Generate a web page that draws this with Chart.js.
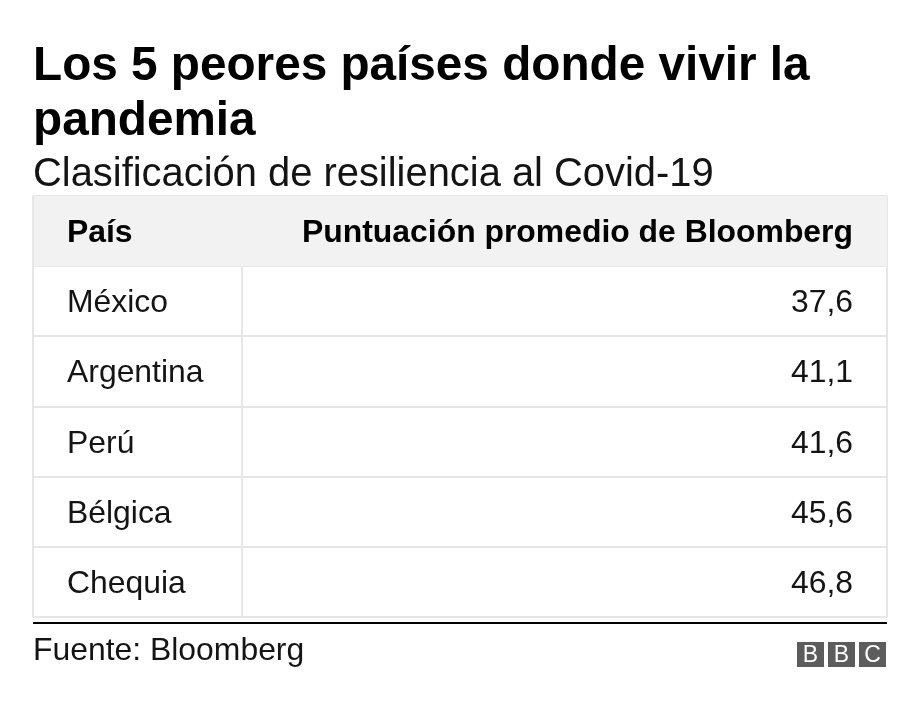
<!DOCTYPE html>
<html>
<head>
<meta charset="utf-8">
<script src="https://cdn.jsdelivr.net/npm/chart.js@4/dist/chart.umd.min.js"></script>
<style>
  html, body { margin: 0; padding: 0; background: #ffffff; }
  #wrap { position: relative; width: 920px; height: 710px; }
</style>
</head>
<body>
<div id="wrap"><canvas id="c"></canvas></div>
<script>
// ---- data ----
const titleLines = ['Los 5 peores países donde vivir la', 'pandemia'];
const subtitle = 'Clasificación de resiliencia al Covid-19';
const headers = ['País', 'Puntuación promedio de Bloomberg'];
const countries = ['México', 'Argentina', 'Perú', 'Bélgica', 'Chequia'];
const scores = [37.6, 41.1, 41.6, 45.6, 46.8];
const source = 'Fuente: Bloomberg';
const logoLetters = ['B', 'B', 'C'];

// ---- styling ----
const FONT = "'Liberation Sans', Arial, Helvetica, sans-serif";
const TEXT = '#141414';
const GRID = '#e6e6e6';
const HEAD_BG = '#f2f2f2';
const COL_SPLIT = 0.245;   // fraction of the table width where column 1 ends
const CELL_PAD = 34;

const rowLabels = [headers[0]].concat(countries);
const headerBar = rowLabels.map((_, i) => i === 0 ? [0, 1] : null);
const fmt = v => v.toFixed(1).replace('.', ',');

const tablePlugin = {
  id: 'tablePlugin',
  afterDraw(chart) {
    const ctx = chart.ctx;
    const area = chart.chartArea;
    const y = chart.scales.y;
    ctx.save();
    ctx.fillStyle = '#000';
    ctx.textAlign = 'left';
    ctx.textBaseline = 'alphabetic';
    // title
    ctx.font = 'bold 47.7px ' + FONT;
    ctx.fillText(titleLines[0], area.left, 80);
    ctx.fillText(titleLines[1], area.left, 135);
    // subtitle
    ctx.fillStyle = TEXT;
    ctx.font = '39.9px ' + FONT;
    ctx.fillText(subtitle, area.left, 186);

    // table cells
    rowLabels.forEach((lab, i) => {
      const cy = y.getPixelForValue(i) + 11;
      ctx.font = (i === 0 ? 'bold ' : '') + '31.9px ' + FONT;
      ctx.fillStyle = i === 0 ? '#000' : TEXT;
      ctx.textAlign = 'left';
      ctx.fillText(lab, area.left + CELL_PAD, cy);
      ctx.textAlign = 'right';
      const right = i === 0 ? headers[1] : fmt(scores[i - 1]);
      ctx.fillText(right, area.right - CELL_PAD, cy);
    });

    // black rule
    ctx.fillStyle = '#000';
    ctx.fillRect(area.left, area.bottom + 5, area.right - area.left, 2);

    // source
    ctx.fillStyle = TEXT;
    ctx.textAlign = 'left';
    ctx.font = '31.9px ' + FONT;
    ctx.fillText(source, area.left, 660);

    // BBC logo
    const bw = 27, bh = 25, gap = 4;
    const total = logoLetters.length * bw + (logoLetters.length - 1) * gap;
    let bx = area.right - 1 - total;
    const by = 642;
    ctx.font = '23px ' + FONT;
    ctx.textAlign = 'center';
    ctx.textBaseline = 'middle';
    logoLetters.forEach(ch => {
      ctx.fillStyle = '#5c5c5c';
      ctx.fillRect(bx, by, bw, bh);
      ctx.fillStyle = '#ffffff';
      ctx.fillText(ch, bx + bw / 2, by + bh / 2 + 1);
      bx += bw + gap;
    });
    ctx.restore();
  }
};

new Chart(document.getElementById('c'), {
  type: 'bar',
  data: {
    labels: rowLabels,
    datasets: [{
      data: headerBar,
      backgroundColor: HEAD_BG,
      borderWidth: 0,
      barPercentage: 1,
      categoryPercentage: 1,
      inflateAmount: 0
    }]
  },
  options: {
    indexAxis: 'y',
    responsive: true,
    maintainAspectRatio: false,
    animation: false,
    events: [],
    layout: { padding: { left: 33, right: 33, top: 196, bottom: 93 } },
    plugins: { legend: { display: false }, tooltip: { enabled: false }, title: { display: false } },
    scales: {
      x: {
        type: 'linear', min: 0, max: 1, z: 1,
        afterBuildTicks: s => { s.ticks = [0, COL_SPLIT, 1].map(v => ({ value: v })); },
        ticks: { display: false },
        grid: { color: GRID, lineWidth: 2, drawTicks: false },
        border: { display: false }
      },
      y: {
        type: 'category', offset: true, z: 1,
        ticks: { display: false },
        grid: { color: GRID, lineWidth: 2, drawTicks: false, offset: true },
        border: { display: false }
      }
    }
  },
  plugins: [tablePlugin]
});
</script>
</body>
</html>
